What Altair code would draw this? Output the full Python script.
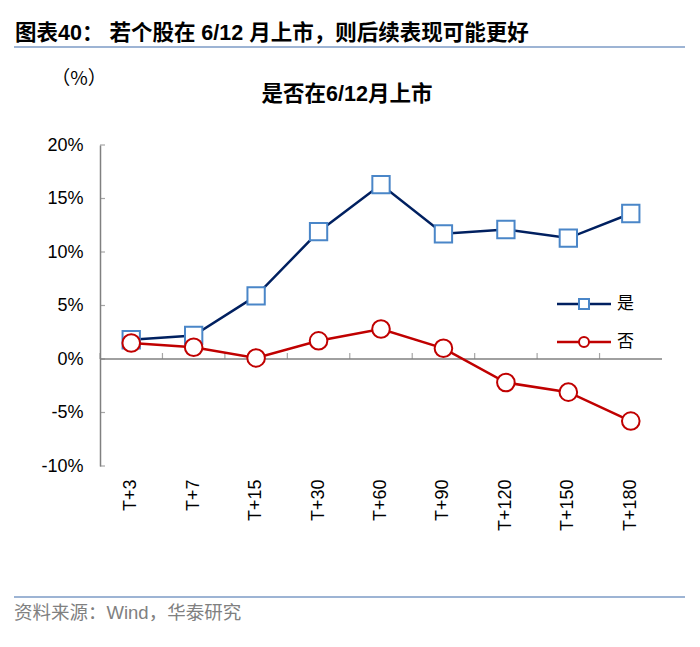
import altair as alt
import pandas as pd

categories = ["T+3", "T+7", "T+15", "T+30", "T+60", "T+90", "T+120", "T+150", "T+180"]
yes_values = [1.8, 2.2, 5.9, 11.9, 16.3, 11.7, 12.1, 11.3, 13.6]
no_values = [1.5, 1.1, 0.1, 1.7, 2.8, 1.0, -2.2, -3.1, -5.8]
series_names = ["是", "否"]
y_ticks = [-10, -5, 0, 5, 10, 15, 20]

header_text = "图表40：  若个股在 6/12 月上市，则后续表现可能更好"
chart_title = "是否在6/12月上市"
unit_text = "（%）"
source_text = "资料来源：Wind，华泰研究"

NAVY = "#002060"
SQ_BLUE = "#4a86c8"
RED = "#c00000"
GREY = "#808080"
FONT = "Liberation Sans, Arial, Noto Sans CJK SC"
CJK = "Noto Sans CJK SC"

df = pd.DataFrame({
    "cat": categories * 2,
    "value": yes_values + no_values,
    "series": [series_names[0]] * len(categories) + [series_names[1]] * len(categories),
})
cat_df = pd.DataFrame({"cat": categories})
ytick_df = pd.DataFrame({"v": y_ticks})
one = pd.DataFrame({"a": [0]})

W, H = 562, 321

x_scale = alt.Scale(type="band", domain=categories, paddingInner=0, paddingOuter=0)
x_axis = alt.Axis(title=None, labelAngle=-90, domain=False, ticks=False, labelPadding=13,
                  labelFontSize=18, labelFont=FONT, labelColor="black")
y_scale = alt.Scale(domain=[-10, 20], nice=False, zero=False)
y_axis = alt.Axis(title=None, values=y_ticks, labelExpr="datum.value + '%'", ticks=False,
                  domain=True, domainColor=GREY, domainWidth=1.5, grid=False, labelPadding=17,
                  labelFontSize=18, labelFont=FONT, labelColor="black")

base = alt.Chart(df).encode(
    x=alt.X("cat:N", sort=categories, scale=x_scale, axis=x_axis, bandPosition=0.5),
    y=alt.Y("value:Q", scale=y_scale, axis=y_axis),
)

yes_line = base.transform_filter(alt.datum.series == series_names[0]).mark_line(color=NAVY, strokeWidth=2.5)
yes_pts = base.transform_filter(alt.datum.series == series_names[0]).mark_point(
    shape="square", size=300, filled=True, fill="white", stroke=SQ_BLUE, strokeWidth=2, opacity=1)
no_line = base.transform_filter(alt.datum.series == series_names[1]).mark_line(color=RED, strokeWidth=2.5)
no_pts = base.transform_filter(alt.datum.series == series_names[1]).mark_point(
    shape="circle", size=310, filled=True, fill="white", stroke=RED, strokeWidth=2, opacity=1)

zero_line = alt.Chart(one).mark_rule(color=GREY, strokeWidth=1.5).encode(y=alt.datum(0))
x_ticks = alt.Chart(cat_df).mark_tick(orient="vertical", color=GREY, size=6, thickness=1.2, yOffset=-3).encode(
    x=alt.X("cat:N", sort=categories, bandPosition=0), y=alt.datum(0))
y_tick_marks = alt.Chart(ytick_df).mark_tick(orient="horizontal", color=GREY, size=5, thickness=1.2).encode(
    y=alt.Y("v:Q"), x=alt.value(2.5))

# legend
leg = []
for name, ypos, col, shape, stroke in [(series_names[0], 159, NAVY, "square", SQ_BLUE),
                                        (series_names[1], 197, RED, "circle", RED)]:
    leg.append(alt.Chart(one).mark_rule(color=col, strokeWidth=2.5).encode(
        x=alt.value(457), x2=alt.value(511), y=alt.value(ypos)))
    leg.append(alt.Chart(one).mark_point(shape=shape, size=100, filled=True, fill="white",
                                         stroke=stroke, strokeWidth=2, opacity=1).encode(
        x=alt.value(484), y=alt.value(ypos)))
    leg.append(alt.Chart(one).mark_text(align="left", baseline="middle", fontSize=17, font=CJK,
                                        color="black").encode(
        x=alt.value(517), y=alt.value(ypos), text=alt.value(name)))

# texts and decorations
header = alt.Chart(one).mark_text(align="left", baseline="middle", fontSize=21.5, fontWeight="bold",
                                  font=FONT, color="black").encode(
    x=alt.value(-85), y=alt.value(-111), text=alt.value(header_text))
header_rule = alt.Chart(one).mark_rule(color="#9db4d4", strokeWidth=2).encode(
    x=alt.value(-86), x2=alt.value(585), y=alt.value(-98))
title = alt.Chart(one).mark_text(align="center", baseline="middle", fontSize=21.5, fontWeight="bold",
                                 font=FONT, color="black").encode(
    x=alt.value(247), y=alt.value(-50), text=alt.value(chart_title))
unit = alt.Chart(one).mark_text(align="center", baseline="middle", fontSize=19,
                                font="Noto Sans CJK SC, Noto Sans CJK JP", color="black").encode(
    x=alt.value(-21), y=alt.value(-66), text=alt.value(unit_text))
footer_rule = alt.Chart(one).mark_rule(color="#9db4d4", strokeWidth=2).encode(
    x=alt.value(-86), x2=alt.value(585), y=alt.value(452))
footer = alt.Chart(one).mark_text(align="left", baseline="middle", fontSize=18.5,
                                  font=FONT, color=GREY).encode(
    x=alt.value(-86), y=alt.value(468), text=alt.value(source_text))

chart = alt.layer(
    zero_line, x_ticks, y_tick_marks,
    yes_line, yes_pts, no_line, no_pts,
    *leg, header, header_rule, title, unit, footer_rule, footer,
).properties(
    width=W, height=H,
    background="white",
    autosize=alt.AutoSizeParams(type="none"),
    padding={"left": 92, "top": 137, "right": 30, "bottom": 173},
).configure_view(stroke=None)

chart.save("out.html", embed_options={"renderer": "svg", "actions": False})
